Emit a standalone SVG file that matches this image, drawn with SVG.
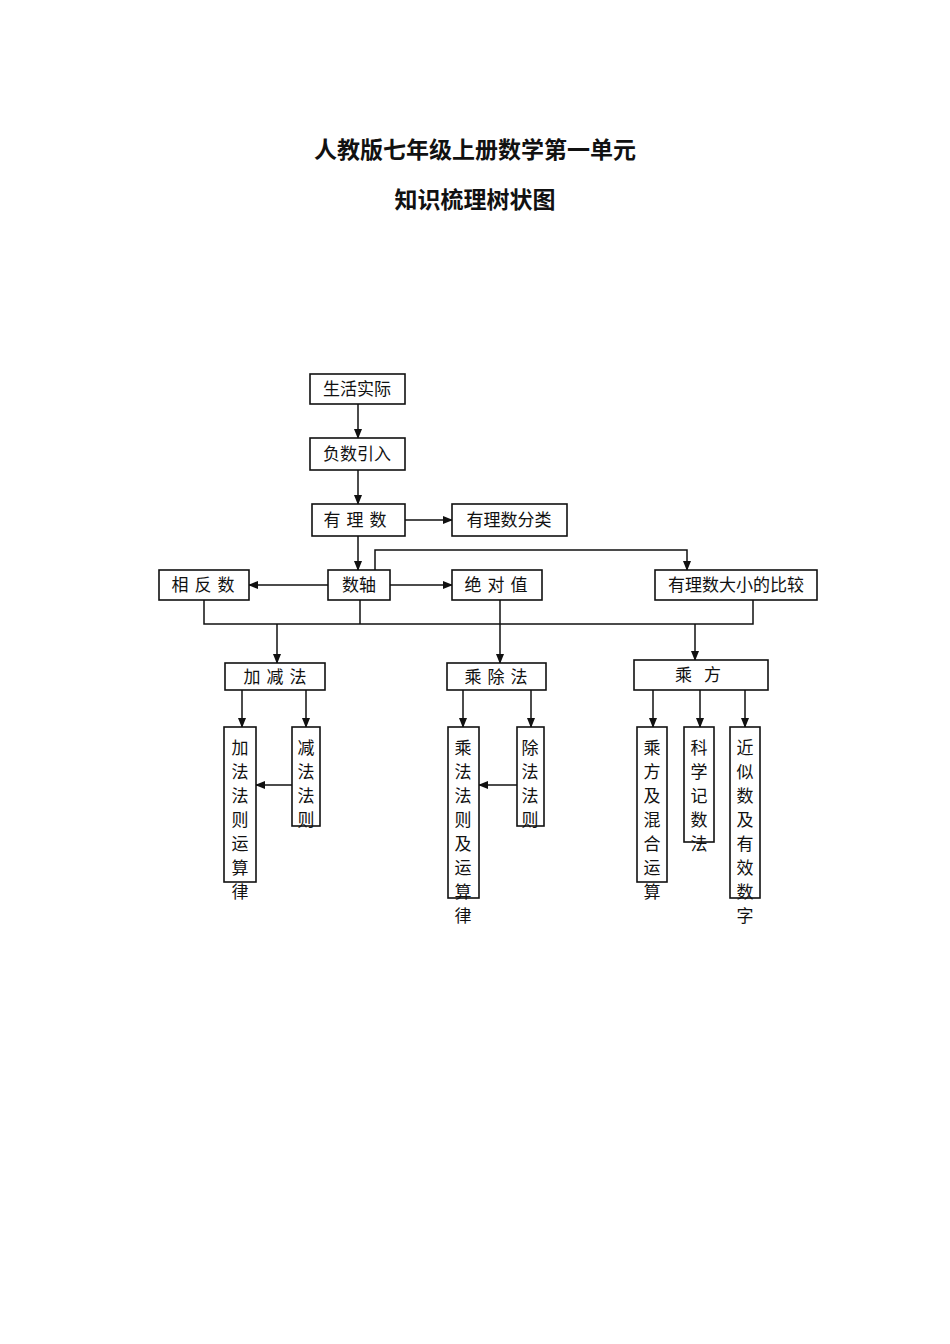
<svg xmlns="http://www.w3.org/2000/svg" width="950" height="1344" viewBox="0 0 950 1344">
<style>
rect{fill:#fff;stroke:#111;stroke-width:1.6}
text{font-family:"Noto Sans CJK SC",sans-serif;font-size:17px;fill:#111;text-anchor:middle}
.t{font-size:23px;font-weight:bold}
.c line,.c path{stroke:#111;stroke-width:1.5;fill:none}
</style>
<defs><marker id="a" markerWidth="10" markerHeight="10" refX="9" refY="5" orient="auto" markerUnits="userSpaceOnUse"><path d="M0,1 L10,5 L0,9 Z" fill="#111"/></marker></defs>
<rect x="0" y="0" width="950" height="1344" style="stroke:none"/>
<text class="t" x="475" y="158">人教版七年级上册数学第一单元</text>
<text class="t" x="475" y="208">知识梳理树状图</text>
<g class="c">
<line x1="358" y1="404" x2="358" y2="438" marker-end="url(#a)"/>
<line x1="358" y1="470" x2="358" y2="504" marker-end="url(#a)"/>
<line x1="405" y1="520" x2="452" y2="520" marker-end="url(#a)"/>
<line x1="358" y1="536" x2="358" y2="570" marker-end="url(#a)"/>
<path d="M375,570 V550 H687 V570" marker-end="url(#a)"/>
<line x1="328" y1="585" x2="249" y2="585" marker-end="url(#a)"/>
<line x1="390" y1="585" x2="452" y2="585" marker-end="url(#a)"/>
<path d="M204,600 V624 H753 V600"/>
<line x1="360" y1="600" x2="360" y2="624"/>
<line x1="277" y1="624" x2="277" y2="663" marker-end="url(#a)"/>
<line x1="500" y1="600" x2="500" y2="663" marker-end="url(#a)"/>
<line x1="695" y1="624" x2="695" y2="660" marker-end="url(#a)"/>
<line x1="242" y1="690" x2="242" y2="727" marker-end="url(#a)"/>
<line x1="306" y1="690" x2="306" y2="727" marker-end="url(#a)"/>
<line x1="292" y1="785" x2="256" y2="785" marker-end="url(#a)"/>
<line x1="463" y1="690" x2="463" y2="727" marker-end="url(#a)"/>
<line x1="531" y1="690" x2="531" y2="727" marker-end="url(#a)"/>
<line x1="517" y1="785" x2="479" y2="785" marker-end="url(#a)"/>
<line x1="653" y1="690" x2="653" y2="727" marker-end="url(#a)"/>
<line x1="700" y1="690" x2="700" y2="727" marker-end="url(#a)"/>
<line x1="745" y1="690" x2="745" y2="727" marker-end="url(#a)"/>
</g>
<g id="n1"><rect x="310" y="374" width="95" height="30"/><text x="357" y="395">生活实际</text></g>
<g id="n2"><rect x="310" y="438" width="95" height="32"/><text x="357" y="460">负数引入</text></g>
<g id="n3"><rect x="312" y="504" width="93" height="32"/><text x="358" y="526" letter-spacing="6">有理数</text></g>
<g id="n4"><rect x="452" y="504" width="115" height="32"/><text x="509" y="526">有理数分类</text></g>
<g id="n5"><rect x="328" y="570" width="62" height="30"/><text x="359" y="591">数轴</text></g>
<g id="n6"><rect x="159" y="570" width="90" height="30"/><text x="206" y="591" letter-spacing="6">相反数</text></g>
<g id="n7"><rect x="452" y="570" width="90" height="30"/><text x="499" y="591" letter-spacing="6">绝对值</text></g>
<g id="n8"><rect x="655" y="570" width="162" height="30"/><text x="736" y="591">有理数大小的比较</text></g>
<g id="n9"><rect x="225" y="663" width="100" height="27"/><text x="278" y="683" letter-spacing="6">加减法</text></g>
<g id="n10"><rect x="447" y="663" width="99" height="27"/><text x="499" y="683" letter-spacing="6">乘除法</text></g>
<g id="n11"><rect x="634" y="660" width="134" height="30"/><text x="704" y="681" letter-spacing="12">乘方</text></g>
<g id="n12"><rect x="224" y="727" width="32" height="155"/><text x="240" y="754"><tspan x="240">加</tspan><tspan x="240" dy="24">法</tspan><tspan x="240" dy="24">法</tspan><tspan x="240" dy="24">则</tspan><tspan x="240" dy="24">运</tspan><tspan x="240" dy="24">算</tspan><tspan x="240" dy="24">律</tspan></text></g>
<g id="n13"><rect x="292" y="727" width="28" height="99"/><text x="306" y="754"><tspan x="306">减</tspan><tspan x="306" dy="24">法</tspan><tspan x="306" dy="24">法</tspan><tspan x="306" dy="24">则</tspan></text></g>
<g id="n14"><rect x="448" y="727" width="31" height="171"/><text x="463" y="754"><tspan x="463">乘</tspan><tspan x="463" dy="24">法</tspan><tspan x="463" dy="24">法</tspan><tspan x="463" dy="24">则</tspan><tspan x="463" dy="24">及</tspan><tspan x="463" dy="24">运</tspan><tspan x="463" dy="24">算</tspan><tspan x="463" dy="24">律</tspan></text></g>
<g id="n15"><rect x="517" y="727" width="27" height="99"/><text x="530" y="754"><tspan x="530">除</tspan><tspan x="530" dy="24">法</tspan><tspan x="530" dy="24">法</tspan><tspan x="530" dy="24">则</tspan></text></g>
<g id="n16"><rect x="637" y="727" width="30" height="155"/><text x="652" y="754"><tspan x="652">乘</tspan><tspan x="652" dy="24">方</tspan><tspan x="652" dy="24">及</tspan><tspan x="652" dy="24">混</tspan><tspan x="652" dy="24">合</tspan><tspan x="652" dy="24">运</tspan><tspan x="652" dy="24">算</tspan></text></g>
<g id="n17"><rect x="684" y="727" width="30" height="115"/><text x="699" y="754"><tspan x="699">科</tspan><tspan x="699" dy="24">学</tspan><tspan x="699" dy="24">记</tspan><tspan x="699" dy="24">数</tspan><tspan x="699" dy="24">法</tspan></text></g>
<g id="n18"><rect x="730" y="727" width="30" height="171"/><text x="745" y="754"><tspan x="745">近</tspan><tspan x="745" dy="24">似</tspan><tspan x="745" dy="24">数</tspan><tspan x="745" dy="24">及</tspan><tspan x="745" dy="24">有</tspan><tspan x="745" dy="24">效</tspan><tspan x="745" dy="24">数</tspan><tspan x="745" dy="24">字</tspan></text></g>
</svg>
